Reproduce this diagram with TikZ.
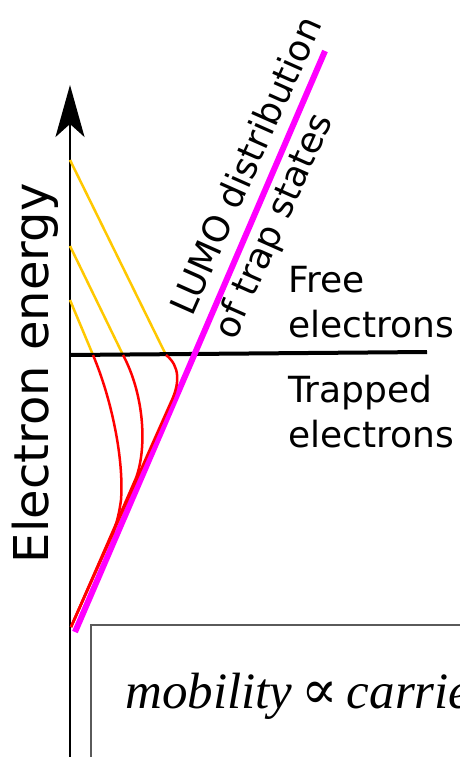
\documentclass[tikz,border=0pt]{standalone}
\usepackage{fontspec}
\setmainfont{DejaVu Sans}
\newfontfamily\serifit{Liberation Serif}
\newfontfamily\dvserif{DejaVu Serif}
\usetikzlibrary{arrows.meta}
\definecolor{gold}{HTML}{FFC800}
\definecolor{lumomag}{HTML}{FF00FF}
\definecolor{pured}{HTML}{FF0000}
\definecolor{boxgray}{HTML}{5A5A5A}
\begin{document}
\begin{tikzpicture}[x=1pt,y=-1pt,
  lbl/.style={inner sep=0pt, outer sep=0pt, font=\fontsize{36}{45}\selectfont},
  yel/.style={gold, line width=2.5pt},
  redc/.style={pured, line width=2.5pt},
  lumo/.style={lumomag, line width=6pt},
  level/.style={black, line width=4pt},
  axisline/.style={black, line width=2.5pt, -{Stealth[length=52pt,width=29pt,inset=13pt]}}]
\useasboundingbox (0,0) rectangle (460,757);
\clip (0,0) rectangle (460,757);
% coordinates
\coordinate (ax0) at (70,757);
\coordinate (ax1) at (70,85);
\coordinate (lv0) at (70,355);
\coordinate (lv1) at (427,352);
\coordinate (m0) at (75,632);
\coordinate (m1) at (325,51);
\coordinate (y1a) at (70,160);  \coordinate (y1b) at (166,355);
\coordinate (y2a) at (70,246);  \coordinate (y2b) at (123,355);
\coordinate (y3a) at (70,300);  \coordinate (y3b) at (93,355);
\coordinate (rb) at (71,627);
% box
\draw[boxgray, line width=1.2pt] (91,625) rectangle (480,790);
\node[anchor=base west, inner sep=0pt, font=\serifit\itshape\fontsize{51}{60}\selectfont] (mob) at (125,708)
  {mobility\hspace{9pt}{\dvserif\upshape\fontsize{54}{60}\selectfont ∝}\hspace{9pt}carrier};
% axis
\draw[axisline] (ax0) -- (ax1);
% yellow
\draw[yel] (y1a) -- (y1b);
\draw[yel] (y2a) -- (y2b);
\draw[yel] (y3a) -- (y3b);
% level
\draw[level] (lv0) -- (lv1);
% magenta
\draw[lumo] (m0) -- (m1);
% red
\draw[redc] (y1b) .. controls (180,366) and (180,383) .. (171,402) -- (rb);
\draw[redc] (y2b) .. controls (143,392) and (148,445) .. (136,478) -- (rb);
\draw[redc] (y3b) .. controls (112,400) and (124,460) .. (121,500) .. controls (119,515) and (116,525) .. (113,533) -- (rb);
% labels
\node[lbl, anchor=base west, rotate=90, font=\fontsize{48}{58}\selectfont] (ee) at (48,563) {Electron energy};
\node[lbl, anchor=base west, rotate=66] (l1) at (192,317) {LUMO distribution};
\node[lbl, anchor=base west, rotate=66] (l2) at (235,341) {of trap states};
\node[lbl, anchor=base west] (f1) at (288,292) {Free};
\node[lbl, anchor=base west] (f2) at (288,337) {electrons};
\node[lbl, anchor=base west] (t1) at (288,402) {Trapped};
\node[lbl, anchor=base west] (t2) at (288,447) {electrons};
\end{tikzpicture}
\end{document}
